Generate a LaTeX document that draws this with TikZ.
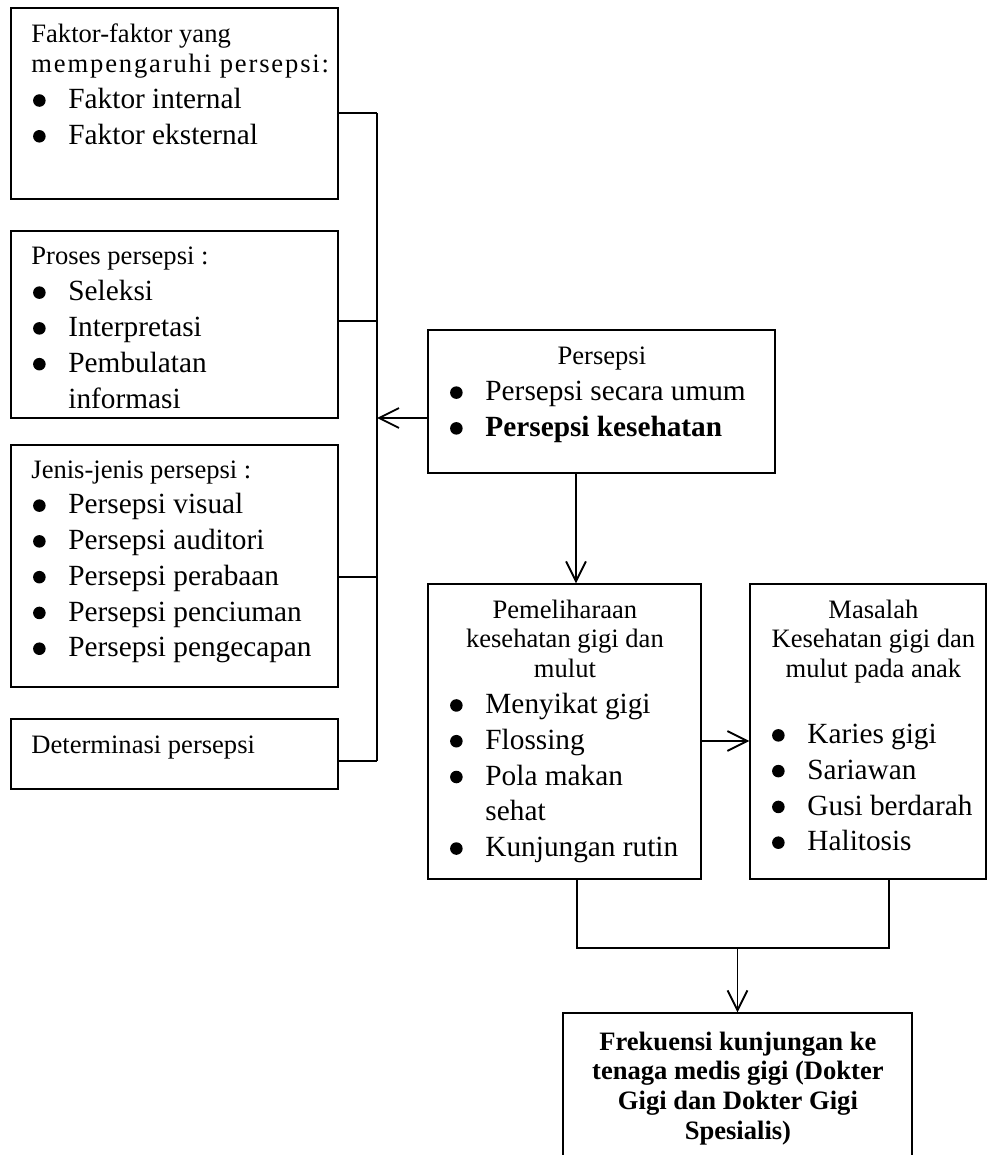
\documentclass[tikz,border=0pt]{standalone}
\usepackage{fontspec}
\setmainfont{Liberation Serif}
\usetikzlibrary{arrows.meta}
\newlength\unitpx \setlength\unitpx{0.478pt}
\newlength\bulind \setlength\bulind{17.7pt}
\newlength\bulsh  \setlength\bulsh{0.8pt}
\newcommand{\hdfont}{\fontsize{12.7}{14.3}\selectfont}
\newcommand{\itfont}{\fontsize{14}{17.1}\selectfont}
\newcommand{\bulmark}{\tikz[baseline=0pt]\fill (3pt,3.9pt) circle [radius=3pt];}
\newcommand{\lefthd}[1]{{\hdfont\noindent\mbox{#1}\par}}
\newcommand{\midhd}[1]{{\hdfont\centering\mbox{#1}\par}}
\newcommand{\bulitem}[1]{{\itfont\noindent\makebox[\bulind][l]{\hspace*{\bulsh}\bulmark}\mbox{#1}\par}}
\newcommand{\bulcont}[1]{{\itfont\noindent\hspace*{\bulind}\mbox{#1}\par}}
\newcommand{\boxtext}[2]{\vtop{\hsize=#1\unitpx\parindent=0pt\parskip=0pt\relax #2}}

\begin{document}
\begin{tikzpicture}[x=0.478pt,y=-0.478pt]
  \tikzstyle{box} = [draw,line width=0.6pt,inner sep=0pt]
  \tikzstyle{txt} = [anchor=base west,inner sep=0pt]
  \tikzstyle{conn} = [draw,line width=0.9pt]
  \tikzstyle{arr} = [draw,line width=0.9pt,-{Straight Barb[length=9.5pt,width=9.5pt]}]
  \useasboundingbox (0,0) rectangle (988,1155);
  %%
  % left column
  \node[box,minimum width=327*\unitpx,minimum height=191*\unitpx] (faktor) at (174.5,103.5) {};
  \node[box,minimum width=327*\unitpx,minimum height=187*\unitpx] (proses) at (174.5,324.5) {};
  \node[box,minimum width=327*\unitpx,minimum height=242*\unitpx] (jenis) at (174.5,566) {};
  \node[box,minimum width=327*\unitpx,minimum height=70*\unitpx] (determ) at (174.5,754) {};
  \node[txt] (faktortxt) at (31,43) {\boxtext{300}{%
    \lefthd{Faktor-faktor yang}
    \lefthd{\addfontfeature{LetterSpace=7}mempengaruhi persepsi:}
    \bulitem{Faktor internal}
    \bulitem{Faktor eksternal}}};
  \node[txt] (prosestxt) at (31,265) {\boxtext{287}{%
    \lefthd{Proses persepsi :}
    \bulitem{Seleksi}
    \bulitem{Interpretasi}
    \bulitem{Pembulatan}
    \bulcont{informasi}}};
  \node[txt] (jenistxt) at (31,478) {\boxtext{287}{%
    \lefthd{Jenis-jenis persepsi :}
    \bulitem{Persepsi visual}
    \bulitem{Persepsi auditori}
    \bulitem{Persepsi perabaan}
    \bulitem{Persepsi penciuman}
    \bulitem{Persepsi pengecapan}}};
  \node[txt] (determtxt) at (31,753) {\boxtext{287}{%
    \lefthd{Determinasi persepsi}}};
  %%
  % right column
  \node[box,minimum width=347*\unitpx,minimum height=143*\unitpx] (persepsi) at (601.5,401.5) {};
  \node[box,minimum width=273*\unitpx,minimum height=295*\unitpx] (pelihara) at (564.5,731.5) {};
  \node[box,minimum width=236*\unitpx,minimum height=295*\unitpx] (masalah) at (868,731.5) {};
  \node[box,minimum width=349*\unitpx,minimum height=162*\unitpx] (frekuensi) at (737.5,1094) {};
  \node[txt] (persepsitxt) at (448,365) {\boxtext{307}{%
    \midhd{Persepsi}
    \bulitem{Persepsi secara umum}
    \bulitem{\bfseries Persepsi kesehatan}}};
  \node[txt] (peliharatxt) at (448,618) {\boxtext{233}{%
    \midhd{Pemeliharaan}
    \midhd{kesehatan gigi dan}
    \midhd{mulut}
    \bulitem{Menyikat gigi}
    \bulitem{Flossing}
    \bulitem{Pola makan}
    \bulcont{sehat}
    \bulitem{Kunjungan rutin}}};
  \node[txt] (masalahtxt) at (770,618) {\boxtext{206}{%
    \midhd{Masalah}
    \midhd{Kesehatan gigi dan}
    \midhd{mulut pada anak}
    \midhd{}
    \bulitem{Karies gigi}
    \bulitem{Sariawan}
    \bulitem{Gusi berdarah}
    \bulitem{Halitosis}}};
  \node[txt] (frekuensitxt) at (583,1050) {\boxtext{309}{%
    \midhd{\bfseries Frekuensi kunjungan ke}
    \midhd{\bfseries tenaga medis gigi (Dokter}
    \midhd{\bfseries Gigi dan Dokter Gigi}
    \midhd{\bfseries Spesialis)}}};
  %%
  % connectors
  \coordinate (b1) at (377,113);
  \coordinate (b2) at (377,321);
  \coordinate (b3) at (377,577);
  \coordinate (b4) at (377,761);
  \coordinate (bin) at (377,418);
  \coordinate (d1) at (576,0);
  \coordinate (d2) at (0,741);
  \coordinate (j1) at (577,948);
  \coordinate (j2) at (889,948);
  \path[conn] (faktor.east |- b1) -- (b1);
  \path[conn] (proses.east |- b2) -- (b2);
  \path[conn] (jenis.east |- b3) -- (b3);
  \path[conn] (determ.east |- b4) -- (b4);
  \path[conn,line width=1.1pt] (b1) -- (b4);
  \path[arr] (persepsi.west |- bin) -- (bin);
  \path[arr] (persepsi.south -| d1) -- (pelihara.north -| d1);
  \path[arr] (pelihara.east |- d2) -- (masalah.west |- d2);
  \path[conn] (pelihara.south -| j1) -- (j1) -- (j2) -- (masalah.south -| j2);
  \path[arr] (frekuensi.north |- j1) -- (frekuensi.north);
\end{tikzpicture}
\end{document}
